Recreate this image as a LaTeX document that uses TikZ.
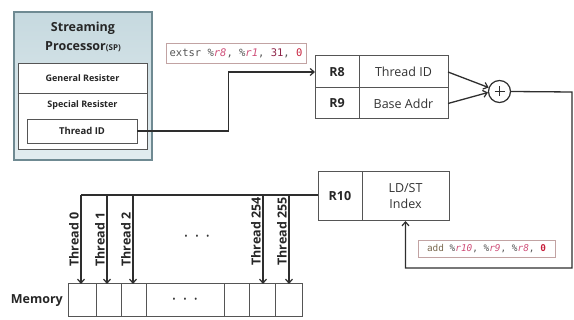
\documentclass[tikz,border=0pt]{standalone}
\usepackage{fontspec}
\setmainfont{Open Sans}
\setmonofont{DejaVu Sans Mono}
\usetikzlibrary{arrows.meta,calc}
\definecolor{linec}{HTML}{2E2E2E}
\definecolor{cellc}{HTML}{555555}
\definecolor{spborder}{HTML}{6F8A92}
\definecolor{sptop}{HTML}{C6D9DF}
\definecolor{spbot}{HTML}{E2ECEF}
\definecolor{codegray}{HTML}{555555}
\definecolor{codepink}{HTML}{D0507A}
\definecolor{codemaroon}{HTML}{8E2448}
\definecolor{codered}{HTML}{C8203C}
\definecolor{codebrown}{HTML}{7A6A50}
\definecolor{txt}{HTML}{333333}
\begin{document}
\begin{tikzpicture}[x=1pt,y=-1pt,
  cell/.style={draw=cellc, line width=1pt, inner sep=0pt, outer sep=0pt, text=txt},
  regname/.style={cell, font=\bfseries\fontsize{12.5}{15}\selectfont, text=black!85},
  regval/.style={cell, font=\fontsize{12.5}{15}\selectfont},
  codebox/.style={draw=gray!80!red!60, line width=0.9pt, fill=white, inner sep=0pt, outer sep=0pt},
  conn/.style={draw=linec, line width=1.3pt},
  arr/.style={conn, -{Straight Barb[length=4pt,width=7pt,line width=1.2pt]}},
  tlabel/.style={rotate=90, inner sep=0pt, font=\bfseries\fontsize{12.5}{14}\selectfont, text=black!85},
  memcell/.style={draw=cellc, line width=1pt, inner sep=0pt, outer sep=0pt, minimum height=33pt},
  dots/.style={font=\fontsize{9}{10}\selectfont, text=black!80, inner sep=0pt}
]
\useasboundingbox (0,0) rectangle (574,320);

% Streaming processor
\node[draw=spborder, line width=1.2pt, top color=sptop, bottom color=spbot,
      minimum width=138pt, minimum height=148pt, inner sep=0pt] (sp) at (83,86) {};
\node[font=\bfseries\fontsize{12.5}{14}\selectfont, text=black!85, inner sep=0pt] (sptitle1) at (83,28) {Streaming};
\node[font=\bfseries\fontsize{12.5}{14}\selectfont, text=black!85, inner sep=0pt] (sptitle2) at (83,47) {Processor{\fontsize{8}{10}\selectfont(SP)}};
\node[draw=cellc, fill=white, line width=0.9pt, minimum width=129pt, minimum height=86pt, inner sep=0pt] (spin) at (82.5,106) {};
\draw[draw=cellc, line width=0.9pt] (spin.west |- 0,93) -- (spin.east |- 0,93);
\node[font=\bfseries\fontsize{9}{11}\selectfont, text=black!85] (genreg) at (82.5,78) {General Resister};
\node[font=\bfseries\fontsize{9}{11}\selectfont, text=black!85] (specreg) at (82.5,105) {Special Resister};
\node[draw=cellc, fill=white, line width=0.9pt, minimum width=110pt, minimum height=24pt, inner sep=0pt,
      font=\bfseries\fontsize{9.5}{11}\selectfont, text=black!85] (tid) at (82,131) {Thread ID};

% extsr instruction
\node[codebox, minimum width=140pt, minimum height=20pt, font=\ttfamily\fontsize{10.5}{12}\selectfont] (extsr) at (236,53)
  {\textcolor{codegray}{extsr \%}\textcolor{codepink}{\itshape r8}\textcolor{codegray}{, \%}\textcolor{codepink}{\itshape r1}\textcolor{codegray}{, }\textcolor{codemaroon}{31}\textcolor{codegray}{, }\textcolor{codered}{0}};

% R8 / R9 table
\node[regname, minimum width=44pt, minimum height=32pt] (r8) at (337,72) {R8};
\node[regval, minimum width=89pt, minimum height=32pt] (tid8) at (403.5,72) {Thread ID};
\node[regname, minimum width=44pt, minimum height=31pt] (r9) at (337,103.5) {R9};
\node[regval, minimum width=89pt, minimum height=31pt] (base9) at (403.5,103.5) {Base Addr};

% adder
\node[draw=linec, line width=1.2pt, circle, minimum size=22pt, inner sep=0pt] (plus) at (499.5,91.5) {};
\draw[line width=1.6pt, linec] ($(plus.center)+(-5,0)$) -- ($(plus.center)+(5,0)$) ($(plus.center)+(0,-5)$) -- ($(plus.center)+(0,5)$);
\draw[arr] (tid8.east) -- (plus.160);
\draw[arr] (base9.east) -- (plus.185);

% R10 table
\node[regname, minimum width=44pt, minimum height=49pt] (r10) at (340,196.5) {R10};
\node[regval, minimum width=87pt, minimum height=49pt, align=center, font=\fontsize{12.5}{16}\selectfont] (idx) at (405.5,196.5) {LD/ST\\Index};

% add instruction
\node[codebox, minimum width=137pt, minimum height=17pt, font=\ttfamily\fontsize{9.4}{11}\selectfont] (addi) at (486.5,248.5)
  {\textcolor{codebrown}{add }\textcolor{codegray}{\%}\textcolor{codepink}{\itshape r10}\textcolor{codegray}{, \%}\textcolor{codepink}{\itshape r9}\textcolor{codegray}{, \%}\textcolor{codepink}{\itshape r8}\textcolor{codegray}{, }\textcolor{codered}{\bfseries 0}};

% connectors
\coordinate (rc1) at (572,92);
\coordinate (rc2) at (572,268);
\draw[arr] (tid.east) -- ++(91,0) |- (r8.west);
\draw[arr] (plus.east) -- (rc1) -- (rc2) -| (idx.south);

% Memory
\node[font=\bfseries\fontsize{12.5}{14}\selectfont, text=black!85, anchor=east, inner sep=0pt] (memlabel) at (63,300.5) {Memory};
\node[memcell, minimum width=28pt] (m0) at (82,300.5) {};
\node[memcell, minimum width=25pt] (m1) at (108.5,300.5) {};
\node[memcell, minimum width=25pt] (m2) at (133.5,300.5) {};
\node[memcell, minimum width=78pt] (mdots) at (185,300.5) {};
\node[memcell, minimum width=25pt] (m253) at (236.5,300.5) {};
\node[memcell, minimum width=26pt] (m254) at (262,300.5) {};
\node[memcell, minimum width=27pt] (m255) at (288.5,300.5) {};
\node[dots] (memdots) at (mdots.center) {•\hspace{7.5pt}•\hspace{7.5pt}•};

% distribution line
\coordinate (bus0) at (81,195);
\draw[conn] (r10.west |- bus0) -- (bus0);
\draw[arr] (bus0) -- (81,284);
\draw[arr] (107,195) -- (107,284);
\draw[arr] (133,195) -- (133,284);
\draw[arr] (263,195) -- (263,284);
\draw[arr] (289,195) -- (289,284);
\node[dots] (busdots) at (197,237) {•\hspace{7.5pt}•\hspace{7.5pt}•};

% thread labels
\node[tlabel, anchor=south west] (lab0) at (79,267) {Thread 0};
\node[tlabel, anchor=south west] (lab1) at (105,267) {Thread 1};
\node[tlabel, anchor=south west] (lab2) at (131,267) {Thread 2};
\node[tlabel, anchor=south west] (lab254) at (261,266) {Thread 254};
\node[tlabel, anchor=south west] (lab255) at (287,266) {Thread 255};
\end{tikzpicture}
\end{document}
